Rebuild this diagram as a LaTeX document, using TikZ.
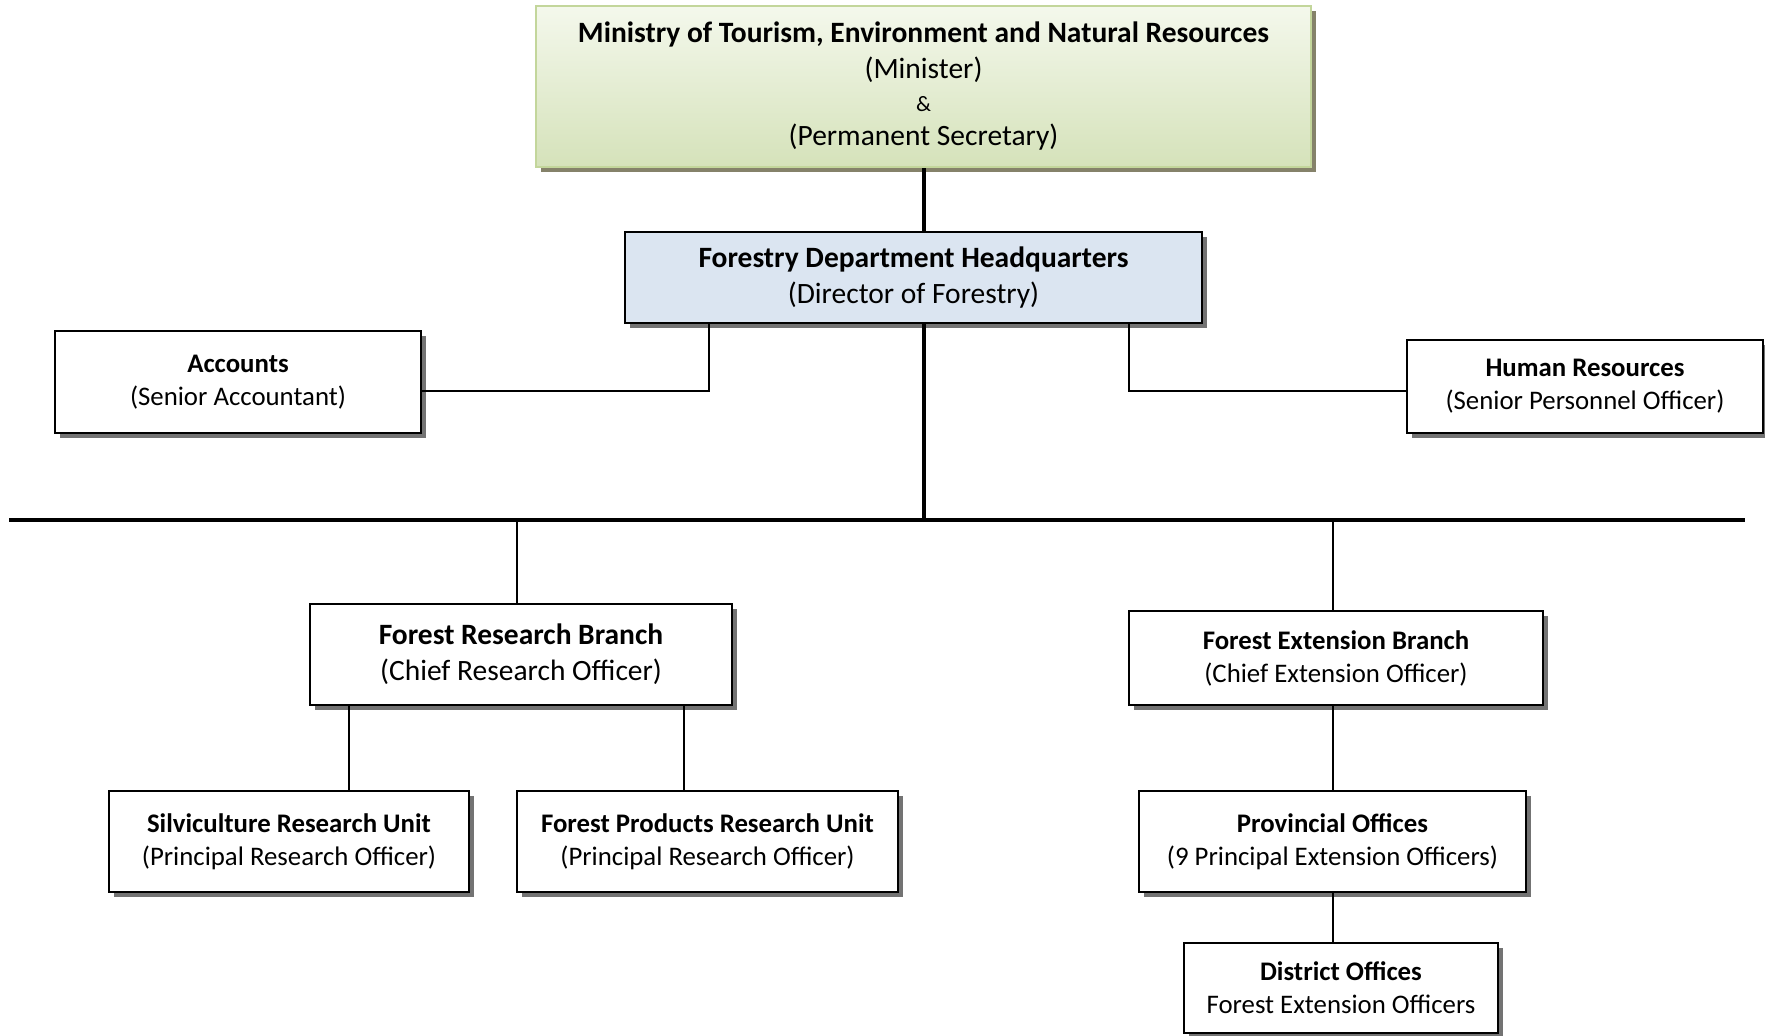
\documentclass[tikz,border=0pt]{standalone}
\usepackage{fontspec}
\setmainfont{Carlito}
\usetikzlibrary{shadows}
\definecolor{mingreenT}{HTML}{F4F8EC}
\definecolor{mingreenB}{HTML}{D5E2BA}
\definecolor{minborder}{HTML}{C3D69B}
\definecolor{hqblue}{HTML}{DBE5F1}
\newcommand{\bigf}{\fontsize{29.5}{36}\selectfont}
\newcommand{\smlf}{\fontsize{26.8}{33}\selectfont}
\begin{document}
\begin{tikzpicture}[x=1pt,y=-1pt,
  box/.style={draw=black, line width=2pt, fill=white, align=center, inner sep=0pt,
    drop shadow={shadow xshift=5pt, shadow yshift=-5pt, fill=black!55, opacity=1}},
  bigbox/.style={box, font=\bigf},
  smlbox/.style={box, font=\smlf},
  thinline/.style={line width=1.6pt, black},
  trunk/.style={line width=3.5pt, black},
  barline/.style={line width=4.5pt, black}]
\useasboundingbox (0,0) rectangle (1765,1036);
\fill[white] (0,0) rectangle (1765,1036);

% boxes
\node[bigbox, draw=minborder, top color=mingreenT, bottom color=mingreenB,
  drop shadow={shadow xshift=5pt, shadow yshift=-5pt, fill=black!35!olive!30!gray, opacity=1},
  minimum width=775pt, minimum height=161pt] (min) at (923.5,86.5)
  {\textbf{Ministry of Tourism, Environment and Natural Resources}\\(Minister)\\[-3pt]{\fontsize{22}{33}\selectfont\&}\\[-2pt](Permanent Secretary)};
\node[bigbox, fill=hqblue, minimum width=577pt, minimum height=91pt] (hq) at (913.5,277.5)
  {\textbf{Forestry Department Headquarters}\\(Director of Forestry)};
\node[smlbox, minimum width=366pt, minimum height=102pt] (acc) at (238,382)
  {\textbf{Accounts}\\(Senior Accountant)};
\node[smlbox, minimum width=356pt, minimum height=93pt] (hr) at (1585,386.5)
  {\textbf{Human Resources}\\(Senior Personnel Officer)};
\node[bigbox, minimum width=422pt, minimum height=101pt] (res) at (521,654.5)
  {\textbf{Forest Research Branch}\\(Chief Research Officer)};
\node[smlbox, minimum width=414pt, minimum height=94pt] (ext) at (1336,658)
  {\textbf{Forest Extension Branch}\\(Chief Extension Officer)};
\node[smlbox, minimum width=360pt, minimum height=101pt] (sil) at (289,841.5)
  {\textbf{Silviculture Research Unit}\\(Principal Research Officer)};
\node[smlbox, minimum width=381pt, minimum height=101pt] (prod) at (707.5,841.5)
  {\textbf{Forest Products Research Unit}\\(Principal Research Officer)};
\node[smlbox, minimum width=387pt, minimum height=101pt] (prov) at (1332.5,841.5)
  {\textbf{Provincial Offices}\\(9 Principal Extension Officers)};
\node[smlbox, minimum width=314pt, minimum height=90pt] (dist) at (1341,988)
  {\textbf{District Offices}\\Forest Extension Officers};

% named coordinates
\coordinate (tx) at (924,0);
\coordinate (hqL) at (709,0);
\coordinate (hqR) at (1129,0);
\coordinate (sideY) at (0,391);
\coordinate (barL) at (9,520);
\coordinate (barR) at (1745,520);
\coordinate (resx) at (517,0);
\coordinate (extx) at (1333,0);
\coordinate (silx) at (349,0);
\coordinate (prodx) at (684,0);

% connectors
\draw[trunk] (min.south -| tx) -- (hq.north -| tx);
\draw[trunk] (hq.south -| tx) -- (barL -| tx);
\draw[barline] (barL) -- (barR);
\draw[thinline] (hq.south -| hqL) |- (acc.east |- sideY);
\draw[thinline] (hq.south -| hqR) |- (hr.west |- sideY);
\draw[thinline] (barL -| resx) -- (res.north -| resx);
\draw[thinline] (barL -| extx) -- (ext.north -| extx);
\draw[thinline] (res.south -| silx) -- (sil.north -| silx);
\draw[thinline] (res.south -| prodx) -- (prod.north -| prodx);
\draw[thinline] (ext.south -| extx) -- (prov.north -| extx);
\draw[thinline] (prov.south -| extx) -- (dist.north -| extx);
\end{tikzpicture}
\end{document}
